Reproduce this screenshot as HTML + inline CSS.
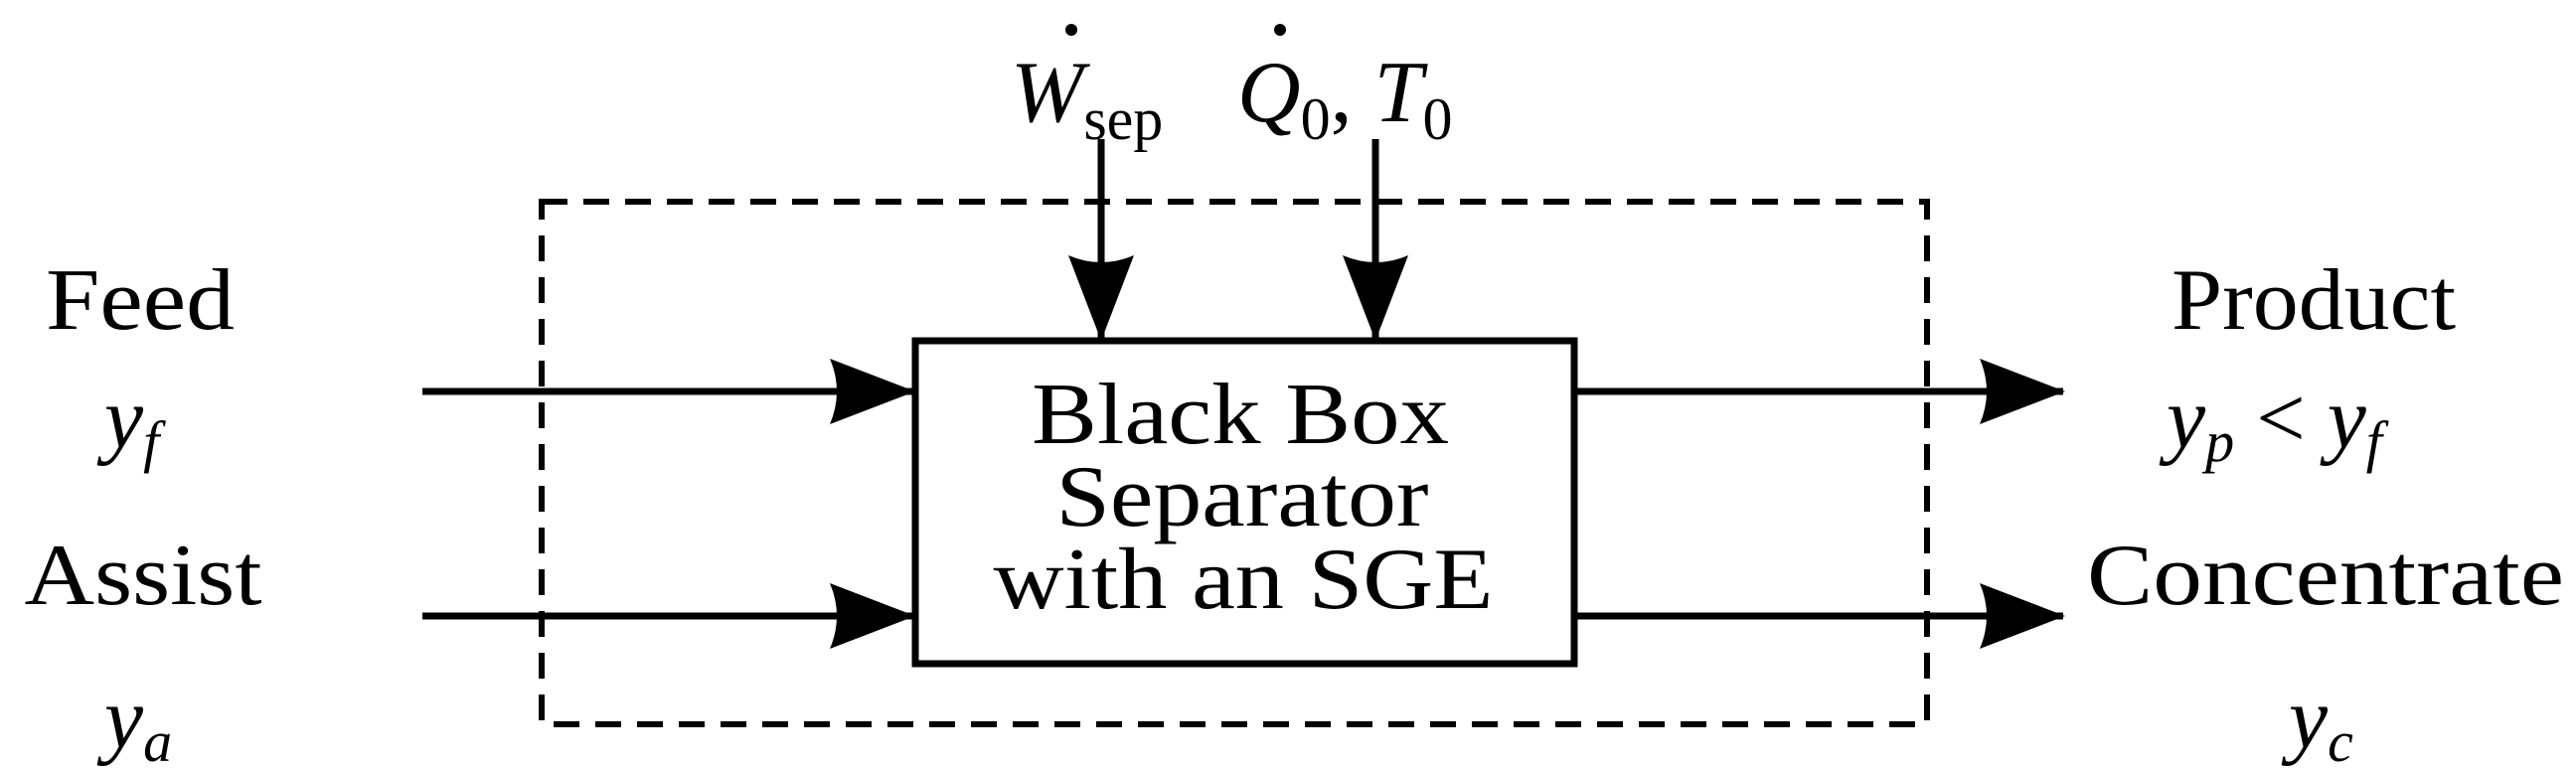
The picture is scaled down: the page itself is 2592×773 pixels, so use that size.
<!DOCTYPE html>
<html><head><style>html,body{margin:0;padding:0;background:#fff}svg{display:block}</style></head>
<body>
<svg width="2592" height="773" viewBox="0 0 2592 773" xmlns="http://www.w3.org/2000/svg">
<defs>
<marker id="ah" viewBox="0 0 86 66" refX="84" refY="33" markerWidth="86" markerHeight="66" markerUnits="userSpaceOnUse" orient="auto">
<path d="M0,0 L86,33 L0,66 Q14,33 0,0 Z" fill="#000"/>
</marker>
</defs>
<g fill="none" stroke="#000">
<rect x="545" y="203" width="1394" height="526" stroke-width="6" stroke-dasharray="26,16"/>
<rect x="921" y="343" width="663" height="325" stroke-width="7"/>
<g stroke-width="7" marker-end="url(#ah)">
<line x1="425" y1="394" x2="919" y2="394"/>
<line x1="425" y1="620" x2="919" y2="620"/>
<line x1="1584" y1="394" x2="2076" y2="394"/>
<line x1="1584" y1="620" x2="2076" y2="620"/>
<line x1="1108" y1="140" x2="1108" y2="341"/>
<line x1="1384" y1="140" x2="1384" y2="341"/>
</g>
</g>
<g font-family="Liberation Serif, serif" font-size="88" fill="#000" text-anchor="middle">
<text x="141" y="331" textLength="190" lengthAdjust="spacingAndGlyphs">Feed</text>
<text x="144" y="608" textLength="239" lengthAdjust="spacingAndGlyphs">Assist</text>
<text x="2328" y="331" textLength="286" lengthAdjust="spacingAndGlyphs">Product</text>
<text x="2340" y="608" textLength="480" lengthAdjust="spacingAndGlyphs">Concentrate</text>
<text x="1248" y="446" textLength="420" lengthAdjust="spacingAndGlyphs">Black Box</text>
<text x="1250" y="529" textLength="375" lengthAdjust="spacingAndGlyphs">Separator</text>
<text x="1251" y="612" textLength="503" lengthAdjust="spacingAndGlyphs">with an SGE</text>
</g>
<g font-family="Liberation Serif, serif" font-size="88" fill="#000" font-style="italic">
<text x="105" y="450">y<tspan font-size="58" dy="14">f</tspan></text>
<text x="105" y="752">y<tspan font-size="58" dy="14">a</tspan></text>
<text x="2180" y="450">y<tspan font-size="58" dy="14">p</tspan><tspan font-style="normal" dy="-14"> &lt; </tspan>y<tspan font-size="58" dy="14">f</tspan></text>
<text x="2303" y="752">y<tspan font-size="58" dy="14">c</tspan></text>
<text x="1017" y="122">W<tspan font-style="normal" font-size="60" dy="18">sep</tspan></text>
<text x="1245" y="122">Q<tspan font-style="normal" font-size="60" dy="18">0</tspan><tspan font-style="normal" dy="-18">, </tspan>T<tspan font-style="normal" font-size="60" dy="18">0</tspan></text>
</g>
<circle cx="1078" cy="30" r="6" fill="#000"/>
<circle cx="1288" cy="30" r="6" fill="#000"/>
</svg>
</body></html>
